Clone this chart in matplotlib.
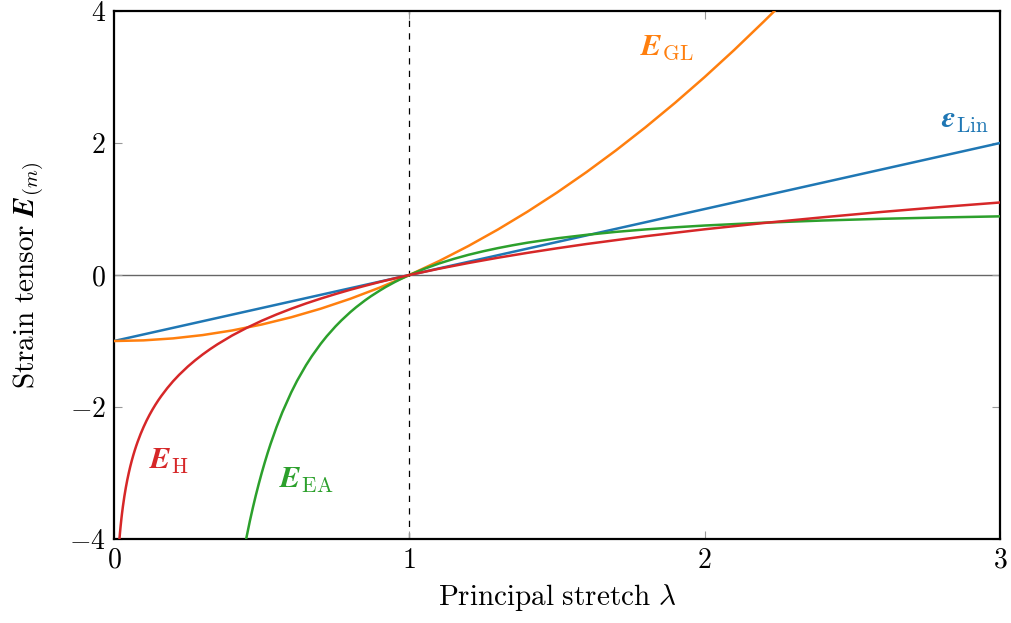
import matplotlib
matplotlib.use("Agg")
import matplotlib.pyplot as plt
from matplotlib.ticker import FixedLocator, FuncFormatter

plt.rcParams['mathtext.fontset'] = 'cm'
plt.rcParams['font.family'] = 'serif'
plt.rcParams['font.serif'] = ['cmr10', 'DejaVu Serif']
plt.rcParams['axes.formatter.use_mathtext'] = True

# ---- data ----
lin_x = [0.0, 3.0]
lin_y = [-1.0, 2.0]

gl_x = [0.0, 0.1, 0.2, 0.3, 0.4, 0.5, 0.6, 0.7, 0.8, 0.9, 1.0, 1.1, 1.2, 1.3,
        1.4, 1.5, 1.6, 1.7, 1.8, 1.9, 2.0, 2.1, 2.2, 2.25]
gl_y = [-1.0, -0.99, -0.96, -0.91, -0.84, -0.75, -0.64, -0.51, -0.36, -0.19, 0.0,
        0.21, 0.44, 0.69, 0.96, 1.25, 1.56, 1.89, 2.24, 2.61, 3.00, 3.41, 3.84, 4.06]

h_x = [0.018, 0.02, 0.022, 0.025, 0.027, 0.03, 0.035, 0.04, 0.045, 0.05, 0.055,
       0.06, 0.065, 0.07, 0.075, 0.08, 0.09, 0.10, 0.11, 0.12, 0.13, 0.14, 0.15,
       0.16, 0.18, 0.20, 0.22, 0.25, 0.275, 0.30, 0.325, 0.35, 0.40, 0.45, 0.50,
       0.55, 0.60, 0.65, 0.70, 0.75, 0.80, 0.85, 0.90, 0.95, 1.0, 1.1, 1.2, 1.3,
       1.4, 1.5, 1.6, 1.8, 2.0, 2.2, 2.4, 2.6, 2.8, 3.0]
h_y = [-4.017, -3.912, -3.817, -3.689, -3.612, -3.507, -3.352, -3.219, -3.101,
       -2.996, -2.900, -2.813, -2.733, -2.659, -2.590, -2.526, -2.408, -2.303,
       -2.207, -2.120, -2.040, -1.966, -1.897, -1.833, -1.715, -1.609, -1.514,
       -1.386, -1.291, -1.204, -1.124, -1.050, -0.916, -0.799, -0.693, -0.598,
       -0.511, -0.431, -0.357, -0.288, -0.223, -0.163, -0.105, -0.051, 0.0,
       0.095, 0.182, 0.262, 0.336, 0.405, 0.470, 0.588, 0.693, 0.788, 0.875,
       0.956, 1.030, 1.099]

ea_x = [0.445, 0.46, 0.47, 0.48, 0.49, 0.50, 0.51, 0.52, 0.53, 0.55, 0.57, 0.60,
        0.62, 0.65, 0.67, 0.70, 0.72, 0.75, 0.77, 0.80, 0.82, 0.85, 0.87, 0.90,
        0.92, 0.95, 0.97, 1.0, 1.05, 1.1, 1.15, 1.2, 1.25, 1.3, 1.35, 1.4, 1.5,
        1.6, 1.7, 1.8, 1.9, 2.0, 2.2, 2.4, 2.6, 2.8, 3.0]
ea_y = [-4.050, -3.726, -3.527, -3.340, -3.165, -3.000, -2.845, -2.698, -2.560,
        -2.306, -2.078, -1.778, -1.601, -1.367, -1.228, -1.041, -0.929, -0.778,
        -0.687, -0.5625, -0.487, -0.384, -0.321, -0.235, -0.181, -0.108, -0.063,
        0.0, 0.093, 0.174, 0.244, 0.306, 0.360, 0.408, 0.451, 0.490, 0.556,
        0.609, 0.654, 0.691, 0.723, 0.750, 0.793, 0.826, 0.852, 0.872, 0.889]

x_ticks = [0, 1, 2, 3]
y_ticks = [-4, -2, 0, 2, 4]

c_lin, c_gl, c_ea, c_h = '#1f77b4', '#ff7f0e', '#2ca02c', '#d62728'

fig = plt.figure(figsize=(10.11, 6.23), dpi=100)
ax = fig.add_axes([0.1128, 0.1348, 0.8763, 0.8475])

ax.axhline(0, color='#666666', lw=1.0, zorder=1)
ax.axvline(1, color='black', lw=0.9, ls=(0, (5, 5)), zorder=1)

lw = 1.8
ax.plot(lin_x, lin_y, color=c_lin, lw=lw, zorder=3)
ax.plot(gl_x, gl_y, color=c_gl, lw=lw, zorder=3)
ax.plot(ea_x, ea_y, color=c_ea, lw=lw, zorder=3)
ax.plot(h_x, h_y, color=c_h, lw=lw, zorder=3)

ax.set_xlim(0, 3)
ax.set_ylim(-4, 4)
ax.xaxis.set_major_locator(FixedLocator(x_ticks))
ax.yaxis.set_major_locator(FixedLocator(y_ticks))
fmt = FuncFormatter(lambda v, p: r'$%d$' % v if v >= 0 else r'$-%d$' % abs(v))
ax.xaxis.set_major_formatter(fmt)
ax.yaxis.set_major_formatter(fmt)
ax.tick_params(direction='in', length=6, width=0.8, color='#999999',
               top=True, right=True, labelsize=20, pad=6)
for s in ax.spines.values():
    s.set_linewidth(1.6)

ax.set_xlabel(r'$\mathrm{Principal\ stretch}\ \lambda$', fontsize=21, labelpad=6)
ax.set_ylabel(r'$\mathrm{Strain\ tensor}\ \boldsymbol{E}_{(m)}$', fontsize=21, labelpad=16)

ax.text(1.78, 3.44, r'$\boldsymbol{E}_{\mathrm{GL}}$', color=c_gl, fontsize=22, va='center')
ax.text(2.80, 2.33, r'$\boldsymbol{\epsilon}_{\mathrm{Lin}}$', color=c_lin, fontsize=22, va='center')
ax.text(0.12, -2.83, r'$\boldsymbol{E}_{\mathrm{H}}$', color=c_h, fontsize=22, va='center')
ax.text(0.56, -3.11, r'$\boldsymbol{E}_{\mathrm{EA}}$', color=c_ea, fontsize=22, va='center')

fig.savefig('out.png', dpi=100)
